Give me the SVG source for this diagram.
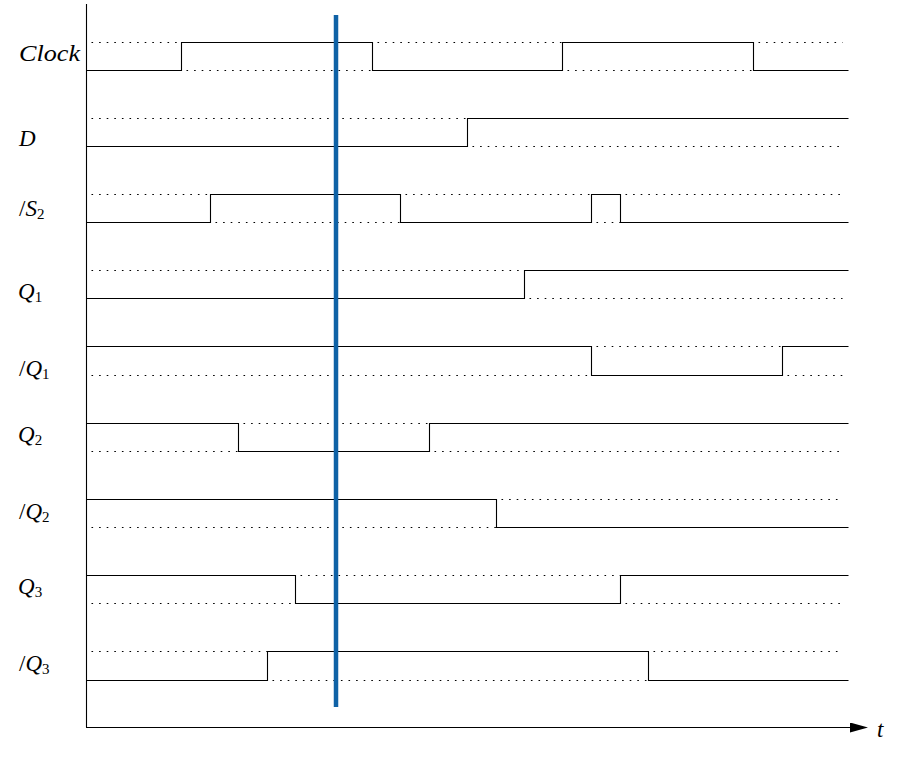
<svg xmlns="http://www.w3.org/2000/svg" width="902" height="763" viewBox="0 0 902 763">
<style>
.sig{fill:none;stroke:#000;stroke-width:1.1;stroke-linejoin:miter}
.dot{fill:none;stroke:#000;stroke-width:1.2;stroke-dasharray:1.6 6;stroke-dashoffset:-5}
.lbl{font-family:"Liberation Serif","DejaVu Serif",serif;font-style:italic;font-size:23px;fill:#000}
.sub{font-style:normal;font-size:15px}
.sl{font-style:normal}
</style>
<defs>
<marker id="arr" viewBox="0 0 18 10" refX="0" refY="5" markerWidth="18" markerHeight="10" markerUnits="userSpaceOnUse" orient="auto">
<path d="M0 0L18 5L0 10Z" fill="#000"/>
</marker>
</defs>
<g id="axes">
<line x1="86.5" y1="4" x2="86.5" y2="727.5" stroke="#000" stroke-width="1.1"/>
<line x1="86" y1="727.5" x2="850" y2="727.5" stroke="#000" stroke-width="1.1" marker-end="url(#arr)"/>
<text class="lbl" x="877" y="737">t</text>
</g>
<g id="clock">
<text class="lbl" x="19" y="61" textLength="61" lengthAdjust="spacingAndGlyphs">Clock</text>
<g transform="translate(0.5 0.5)">
<path class="dot" d="M86 42H181M372 42H562M753 42H842M181 70H372M562 70H753"/>
<polyline class="sig" points="86,70 181,70 181,42 372,42 372,70 562,70 562,42 753,42 753,70 848,70"/>
</g>
</g>
<g id="d">
<text class="lbl" x="19" y="146">D</text>
<g transform="translate(0.5 0.5)">
<path class="dot" d="M86 118H467M467 146H842"/>
<polyline class="sig" points="86,146 467,146 467,118 848,118"/>
</g>
</g>
<g id="s2">
<text class="lbl" x="19" y="216"><tspan class="sl">/</tspan>S<tspan class="sub" dy="3">2</tspan></text>
<g transform="translate(0.5 0.5)">
<path class="dot" d="M86 194H210M400 194H591M620 194H842M210 222H400M591 222H620"/>
<polyline class="sig" points="86,222 210,222 210,194 400,194 400,222 591,222 591,194 620,194 620,222 848,222"/>
</g>
</g>
<g id="q1">
<text class="lbl" x="18" y="299">Q<tspan class="sub" dy="3">1</tspan></text>
<g transform="translate(0.5 0.5)">
<path class="dot" d="M86 270H524M524 298H842"/>
<polyline class="sig" points="86,298 524,298 524,270 848,270"/>
</g>
</g>
<g id="nq1">
<text class="lbl" x="19" y="376"><tspan class="sl">/</tspan>Q<tspan class="sub" dy="3">1</tspan></text>
<g transform="translate(0.5 0.5)">
<path class="dot" d="M86 375H591M782 375H842M591 346H782"/>
<polyline class="sig" points="86,346 591,346 591,375 782,375 782,346 848,346"/>
</g>
</g>
<g id="q2">
<text class="lbl" x="18" y="442">Q<tspan class="sub" dy="3">2</tspan></text>
<g transform="translate(0.5 0.5)">
<path class="dot" d="M86 451H238M429 451H842M238 423H429"/>
<polyline class="sig" points="86,423 238,423 238,451 429,451 429,423 848,423"/>
</g>
</g>
<g id="nq2">
<text class="lbl" x="19" y="519"><tspan class="sl">/</tspan>Q<tspan class="sub" dy="3">2</tspan></text>
<g transform="translate(0.5 0.5)">
<path class="dot" d="M86 527H496M496 499H842"/>
<polyline class="sig" points="86,499 496,499 496,527 848,527"/>
</g>
</g>
<g id="q3">
<text class="lbl" x="18" y="594">Q<tspan class="sub" dy="3">3</tspan></text>
<g transform="translate(0.5 0.5)">
<path class="dot" d="M86 603H295M620 603H842M295 575H620"/>
<polyline class="sig" points="86,575 295,575 295,603 620,603 620,575 848,575"/>
</g>
</g>
<g id="nq3">
<text class="lbl" x="19" y="671"><tspan class="sl">/</tspan>Q<tspan class="sub" dy="3">3</tspan></text>
<g transform="translate(0.5 0.5)">
<path class="dot" d="M86 651H267M648 651H842M267 680H648"/>
<polyline class="sig" points="86,680 267,680 267,651 648,651 648,680 848,680"/>
</g>
</g>
<g id="cursor">
<line x1="336" y1="15" x2="336" y2="707" stroke="#0f62a6" stroke-width="4.5"/>
</g>
</svg>
